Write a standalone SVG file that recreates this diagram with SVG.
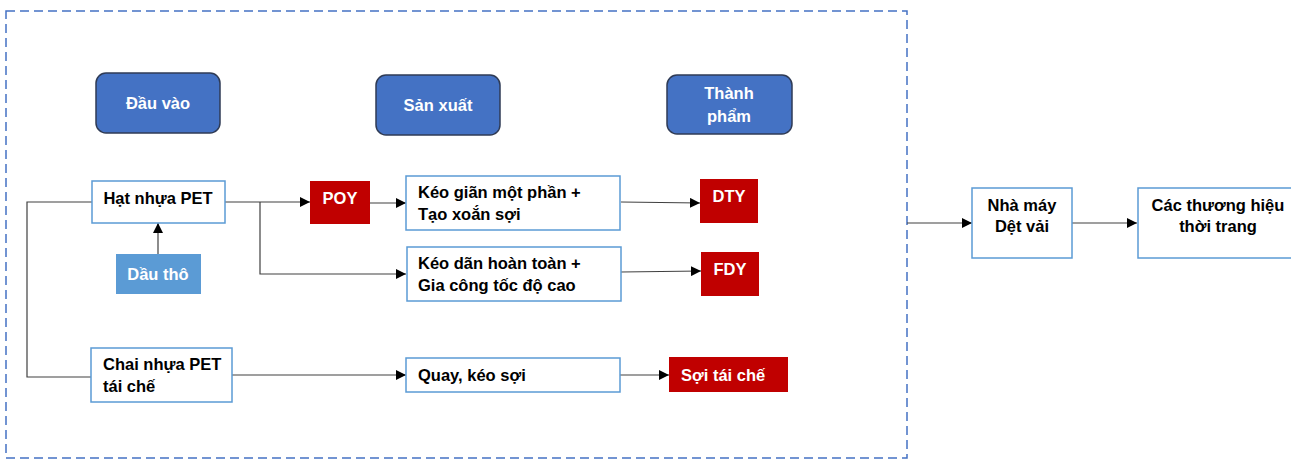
<svg xmlns="http://www.w3.org/2000/svg" width="1291" height="462" viewBox="0 0 1291 462">
<defs>
<marker id="arr" markerWidth="10" markerHeight="10" refX="10" refY="5" orient="auto" markerUnits="userSpaceOnUse">
<path d="M0,0 L10,5 L0,10 Z" fill="#000"/>
</marker>
<style>
text{font-family:"Liberation Sans",Arial,sans-serif;font-weight:bold;font-size:16.5px;}
.hdr rect{fill:#4472C4;stroke:#2F3B55;stroke-width:1.5;}
.hdr text{fill:#fff;text-anchor:middle;}
.box rect{fill:#fff;stroke:#5B9BD5;stroke-width:1.5;}
.box text{fill:#000;}
.red rect{fill:#C00000;}
.red text{fill:#fff;}
.c{text-anchor:middle;}
.conn path{fill:none;stroke:#404040;stroke-width:1.2;}
.conn path.a{marker-end:url(#arr);}
</style>
</defs>
<rect width="1291" height="462" fill="#fff"/>
<rect id="frame" x="6" y="11" width="901" height="447" fill="none" stroke="#4472C4" stroke-width="1.5" stroke-dasharray="9,5"/>

<g id="hdr-dauvao" class="hdr"><rect x="96" y="73" width="124" height="60" rx="10"/><text x="158" y="109">Đầu vào</text></g>
<g id="hdr-sanxuat" class="hdr"><rect x="376" y="75" width="124" height="60" rx="10"/><text x="438" y="111">Sản xuất</text></g>
<g id="hdr-thanhpham" class="hdr"><rect x="667" y="75" width="125" height="59" rx="10"/><text x="729" y="99">Thành</text><text x="729" y="122">phẩm</text></g>

<g class="conn" id="connectors">
<path class="a" d="M158,254 V223"/>
<path class="a" d="M225,202 H310"/>
<path class="a" d="M260,202 V274 H406"/>
<path class="a" d="M370,203 H406"/>
<path class="a" d="M621,202 L700,203"/>
<path class="a" d="M621,272 L701,271"/>
<path d="M92,202 H27 V377 H91"/>
<path class="a" d="M232,375 H406"/>
<path class="a" d="M620,375 H669"/>
<path class="a" d="M907,223 H972"/>
<path class="a" d="M1072,223 H1137"/>
</g>

<g id="hatnhua" class="box"><rect x="92" y="181" width="133" height="42"/><text class="c" x="158" y="204">Hạt nhựa PET</text></g>
<g id="dautho" class="red"><rect x="116" y="254" width="85" height="40" style="fill:#5B9BD5"/><text class="c" x="158" y="280">Dầu thô</text></g>
<g id="chai" class="box"><rect x="91" y="348" width="141" height="54"/><text x="103" y="370">Chai nhựa PET</text><text x="103" y="392">tái chế</text></g>
<g id="poy" class="red"><rect x="310" y="181" width="60" height="43"/><text class="c" x="340" y="204">POY</text></g>
<g id="keogian" class="box"><rect x="406" y="176" width="214" height="54"/><text x="418" y="198">Kéo giãn một phần +</text><text x="418" y="220">Tạo xoắn sợi</text></g>
<g id="keodan" class="box"><rect x="407" y="247" width="214" height="54"/><text x="418" y="269">Kéo dãn hoàn toàn +</text><text x="418" y="291">Gia công tốc độ cao</text></g>
<g id="quay" class="box"><rect x="406" y="358" width="214" height="34"/><text x="418" y="381">Quay, kéo sợi</text></g>
<g id="dty" class="red"><rect x="700" y="179" width="58" height="44"/><text class="c" x="729" y="202">DTY</text></g>
<g id="fdy" class="red"><rect x="701" y="252" width="58" height="44"/><text class="c" x="730" y="275">FDY</text></g>
<g id="soi" class="red"><rect x="669" y="357" width="119" height="35"/><text x="681" y="381">Sợi tái chế</text></g>
<g id="nhamay" class="box"><rect x="972" y="188" width="100" height="70"/><text class="c" x="1022" y="211">Nhà máy</text><text class="c" x="1022" y="232">Dệt vải</text></g>
<g id="thuonghieu" class="box"><rect x="1138" y="188" width="160" height="70"/><text class="c" x="1218" y="211">Các thương hiệu</text><text class="c" x="1218" y="232">thời trang</text></g>
</svg>
